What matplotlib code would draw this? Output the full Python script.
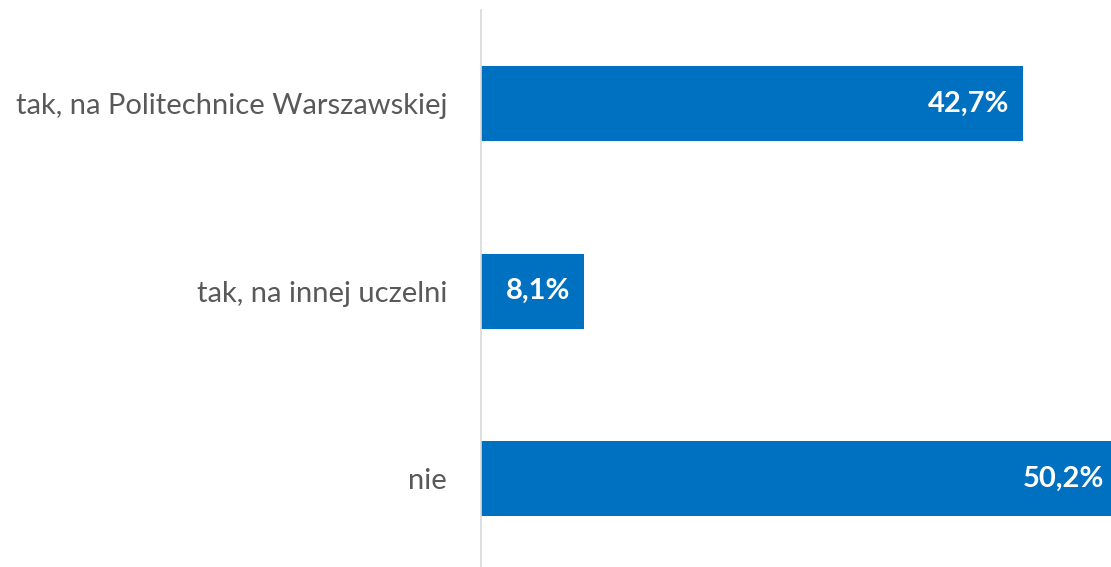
import matplotlib
matplotlib.use("Agg")
import matplotlib.pyplot as plt

categories = ["tak, na Politechnice Warszawskiej", "tak, na innej uczelni", "nie"]
values = [42.7, 8.1, 50.2]
value_labels = ["42,7%", "8,1%", "50,2%"]

W, H = 1111, 567
fig = plt.figure(figsize=(W / 100, H / 100), dpi=100)
ax = fig.add_axes([481 / W, 0, 1 - 481 / W, (H - 10) / H])

ypos = list(range(len(categories)))
ax.barh(ypos, values, height=0.4, color="#0070C0")
ax.set_xlim(0, (W - 481) / 12.69)
ax.set_ylim(2.47, -0.5)

for y, v, lab in zip(ypos, values, value_labels):
    ax.annotate(lab, xy=(v, y), xytext=(-14, 0), textcoords="offset pixels",
                ha="right", va="center", color="white", fontsize=21,
                fontweight="bold", family=["Lato", "DejaVu Sans"], annotation_clip=False)

ax.set_yticks(ypos)
ax.set_yticklabels(categories, fontsize=21, color="#595959", family=["Lato", "DejaVu Sans"])
ax.tick_params(axis="y", length=0, pad=24.5)
ax.set_xticks([])
for s in ["top", "right", "bottom"]:
    ax.spines[s].set_visible(False)
ax.spines["left"].set_color("#D9D9D9")
ax.spines["left"].set_linewidth(1.2)

fig.savefig("out.png", dpi=100)
